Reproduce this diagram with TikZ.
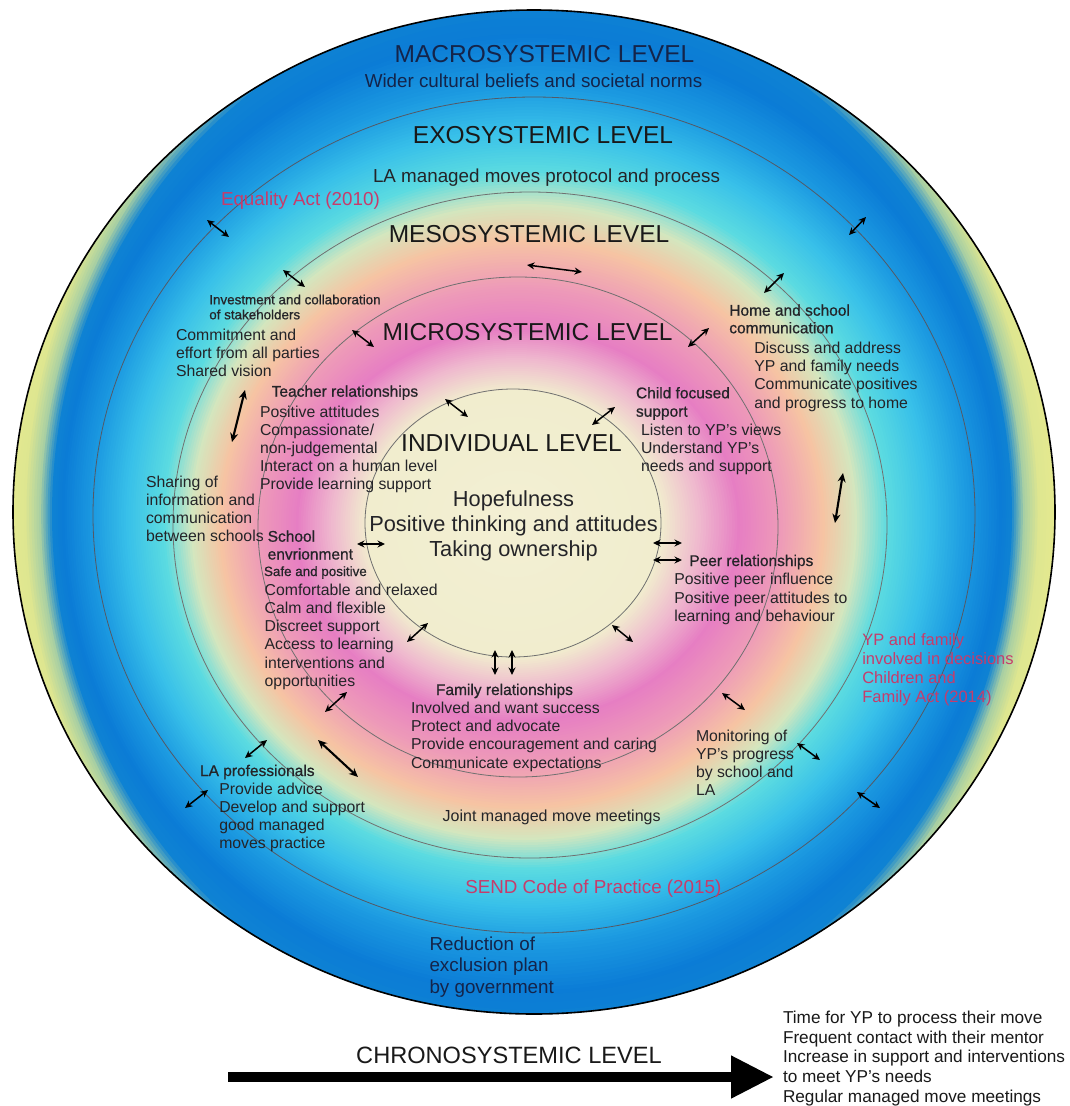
\documentclass[tikz,border=0pt]{standalone}
\usepackage{fontspec}
\setmainfont{Liberation Sans}
\newfontfamily\headfont[FakeBold=0.7]{Liberation Sans}
\usetikzlibrary{arrows.meta}

% colour stops of the background ring gradient (centre -> rim)
\definecolor{g0}{HTML}{F3F0D4}
\definecolor{g1}{HTML}{F1EDCE}
\definecolor{g2}{HTML}{EFB9CE}
\definecolor{g3}{HTML}{E67EC3}
\definecolor{g4}{HTML}{EE9BB8}
\definecolor{g5}{HTML}{F6C4A3}
\definecolor{g6}{HTML}{D4E6BE}
\definecolor{g7}{HTML}{5BDBE1}
\definecolor{g8}{HTML}{38C0E9}
\definecolor{g9}{HTML}{1C9AE1}
\definecolor{g10}{HTML}{0B7CD6}
\definecolor{g11}{HTML}{0E82D3}
\definecolor{g12}{HTML}{A8CFA3}
\definecolor{g13}{HTML}{DEE690}
\definecolor{g14}{HTML}{EDEC8E}
\definecolor{ink}{HTML}{242428}
\definecolor{navy}{HTML}{14244A}
\definecolor{actred}{HTML}{C73C6B}
\definecolor{ringline}{HTML}{707070}

\newcommand\fs[2]{\fontsize{#1}{#2}\selectfont}
% one left-aligned text block, one node per line: name, style, x, first baseline, leading, lines
\newcommand\txtblock[6]{%
  \foreach \linetext [count=\k] in {#6}{%
    \node[#2,anchor=base west] (#1\k) at (#3,{#4+(\k-1)*#5}) {\linetext};}}

\begin{document}
\begin{tikzpicture}[x=1pt,y=-1pt,
  tx/.style={inner sep=0pt,outer sep=0pt,text=ink},
  title/.style={tx,text=black!90,font=\fs{24.5}{28}},
  body/.style={tx,font=\fs{15.8}{18}},
  head/.style={tx,font=\headfont\fs{15.5}{18}},
  smallhead/.style={tx,font=\headfont\fs{13.4}{15}},
  wide/.style={tx,font=\fs{18.8}{22}},
  law/.style={tx,text=actred,font=\fs{18.8}{22}},
  lawsmall/.style={tx,text=actred,font=\fs{16.5}{19}},
  ring/.style={draw=ringline,line width=0.8pt},
  link/.style={<->,>={Stealth[length=7.5pt,width=7pt]},line width=1.5pt,black},
  biglink/.style={link,line width=2.1pt,>={Stealth[length=9pt,width=8pt]}}]

\useasboundingbox (0,0) rectangle (1069,1106);
\fill[white] (0,0) rectangle (1069,1106);

% background: stacked ellipses form the radial colour gradient
\begin{scope}
  \clip (534,512) ellipse [x radius=521,y radius=502];
  \foreach \ax/\ay/\arx/\ary/\ca/\bx/\by/\brx/\bry/\cb/\n in {
    532/514/508/560/g13/532/514/545/595/g14/12,
    532/514/493/545/g12/532/514/508/560/g13/6,
    532/514/480/520/g11/532/514/493/545/g12/6,
    532/514/470/480/g10/532/514/480/520/g11/5,
    530/516/438/430/g9/532/514/470/480/g10/13,
    528/518/402/390/g8/530/516/438/430/g9/14,
    526/520/363/350/g7/528/518/402/390/g8/16,
    524/522/333/318/g6/526/520/363/350/g7/12,
    522/524/303/285/g5/524/522/333/318/g6/12,
    520/525/263/240/g4/522/524/303/285/g5/16,
    518/525/222/197/g3/520/525/263/240/g4/16,
    516/524/185/166/g2/518/525/222/197/g3/15,
    514/524/148/134/g1/516/524/185/166/g2/15,
    514/524/0/0/g0/514/524/148/134/g1/10}{
    \foreach \i in {\n,...,1}{
      \pgfmathsetmacro\s{\i/\n}
      \pgfmathsetmacro\px{\ax+\s*(\bx-\ax)}
      \pgfmathsetmacro\py{\ay+\s*(\by-\ay)}
      \pgfmathsetmacro\prx{\arx+\s*(\brx-\arx)}
      \pgfmathsetmacro\pry{\ary+\s*(\bry-\ary)}
      \pgfmathsetmacro\pc{100*\s}
      \colorlet{stepcol}{\cb!\pc!\ca}
      \fill[stepcol] (\px,\py) ellipse [x radius=\prx,y radius=\pry];
    }
  }
\end{scope}

% system boundaries
\draw[ring] (513,523) ellipse [x radius=148,y radius=134];
\draw[ring] (518,527) ellipse [x radius=260,y radius=250];
\draw[ring] (530,525) ellipse [x radius=357,y radius=333];
\draw[ring,draw=ringline!70!navy] (534,515) ellipse [x radius=441,y radius=418];
\draw[black,line width=1.6pt] (534,512) ellipse [x radius=521,y radius=502];

% level titles and wider context
\node[title,text=navy,anchor=base] (macro) at (544.5,62.7) {MACROSYSTEMIC LEVEL};
\node[wide,text=navy,anchor=base] (norms) at (533.5,87.3) {Wider cultural beliefs and societal norms};
\node[title,anchor=base] (exo) at (543,143.3) {EXOSYSTEMIC LEVEL};
\node[wide,anchor=base] (protocol) at (546.5,182.7) {LA managed moves protocol and process};
\node[law,anchor=base west] (equality) at (221,205) {Equality Act (2010)};
\node[title,anchor=base] (meso) at (529,242.3) {MESOSYSTEMIC LEVEL};
\node[title,anchor=base] (micro) at (527.5,340) {MICROSYSTEMIC LEVEL};
\node[title,anchor=base] (indiv) at (511.5,451) {INDIVIDUAL LEVEL};
\foreach \linetext/\yy [count=\k] in {Hopefulness/506,Positive thinking and attitudes/531.7,Taking ownership/556.7}
  \node[tx,font=\fs{21.8}{25},anchor=base] (self\k) at (513.5,\yy) {\linetext};

% mesosystem
\txtblock{invest}{smallhead}{209.3}{304.3}{15}{Investment and collaboration,of stakeholders}
\txtblock{commit}{body}{176}{340.7}{18}{Commitment and,effort from all parties,Shared vision}
\txtblock{homeschool}{head}{729.3}{315.7}{17.6}{Home and school,communication}
\txtblock{discuss}{body}{754.3}{353.3}{18.3}{Discuss and address,YP and family needs,Communicate positives,and progress to home}
\txtblock{sharing}{body}{146}{487}{18.2}{Sharing of,information and,communication,between schools}
\txtblock{monitor}{body}{696}{741}{18.2}{Monitoring of,YP’s progress,by school and,LA}
\node[tx,font=\fs{16}{18},anchor=base west] (joint) at (442.7,821.7) {Joint managed move meetings};

% microsystem
\txtblock{teachhead}{head}{271.7}{396.7}{18}{Teacher relationships}
\txtblock{teach}{body}{260}{417}{18.2}{Positive attitudes,Compassionate/,non-judgemental,Interact on a human level,Provide learning support}
\txtblock{childhead}{head}{636}{398.3}{18.4}{Child focused,support}
\txtblock{child}{body}{641}{435.7}{18}{Listen to YP’s views,Understand YP’s,needs and support}
\txtblock{schoolhead}{head}{267.7}{541.7}{17.8}{School,envrionment}
\txtblock{safe}{smallhead}{264}{576}{15}{Safe and positive}
\txtblock{school}{body}{264.7}{595}{18.3}{Comfortable and relaxed,Calm and flexible,Discreet support,Access to learning,interventions and,opportunities}
\txtblock{peerhead}{head}{689.3}{566}{18}{Peer relationships}
\txtblock{peer}{body}{674.3}{584.7}{18.5}{Positive peer influence,Positive peer attitudes to,learning and behaviour}
\txtblock{familyhead}{head}{436}{695}{18}{Family relationships}
\txtblock{family}{body}{411}{713.3}{18.3}{Involved and want success,Protect and advocate,Provide encouragement and caring,Communicate expectations}

% exosystem
\txtblock{lahead}{head}{200}{776}{18}{LA professionals}
\txtblock{la}{body}{219.3}{794}{18.2}{Provide advice,Develop and support,good managed,moves practice}
\txtblock{decide}{lawsmall}{862.3}{645}{19.1}{YP and family,involved in decisions,Children and,Family Act (2014)}
\node[law,anchor=base] (send) at (593.3,893.3) {SEND Code of Practice (2015)};

% macrosystem
\txtblock{reduce}{wide,text=navy}{429.5}{950}{21.7}{Reduction of,exclusion plan,by government}

% interactions between the systems
\foreach \sx/\sy/\ex/\ey [count=\a] in {
  207/220/229/237, 866/217/849/235, 283/270/305/287, 527/265/582/272,
  784/273/764/293, 352/330/374/347, 709/328/688/347, 445/399/468/417,
  615/407/592/425, 357/544/385/544, 653/543/682/543, 653/560/682/560,
  428/623/407/642, 612/625/633/642, 495/650/495/675, 512/650/512/675,
  347/692/325/712, 722/693/745/710, 267/740/245/758, 797/743/820/760,
  208/790/185/808, 857/792/880/808}{
  \coordinate (arr\a-s) at (\sx,\sy);
  \coordinate (arr\a-e) at (\ex,\ey);
  \draw[link] (arr\a-s) -- (arr\a-e);
}
\foreach \sx/\sy/\ex/\ey [count=\a] in {245/390/232/442, 843/473/835/523, 318/740/358/777}{
  \coordinate (big\a-s) at (\sx,\sy);
  \coordinate (big\a-e) at (\ex,\ey);
  \draw[biglink] (big\a-s) -- (big\a-e);
}

% chronosystem
\node[tx,text=black!90,font=\fs{23.6}{27},anchor=base] (chrono) at (509,1063.3) {CHRONOSYSTEMIC LEVEL};
\coordinate (timeStart) at (228,1077);
\coordinate (timeEnd) at (774,1077);
\draw[line width=10.5pt,-{Triangle[length=43pt,width=40pt]}] (timeStart) -- (timeEnd);
\txtblock{time}{tx,text=black!90,font=\fs{17.2}{20}}{783}{1023.3}{19.75}{Time for YP to process their move,Frequent contact with their mentor,Increase in support and interventions,to meet YP’s needs,Regular managed move meetings}
\end{tikzpicture}
\end{document}
